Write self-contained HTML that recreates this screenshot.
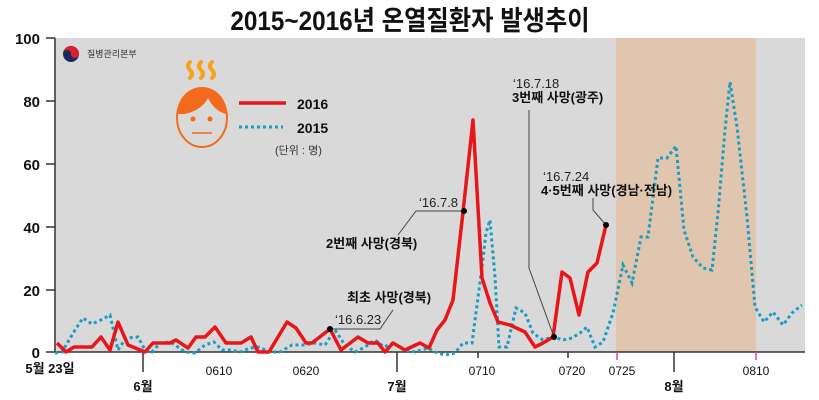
<!DOCTYPE html>
<html><head><meta charset="utf-8"><style>
body{margin:0;background:#fff;}
svg{display:block;font-family:"Liberation Sans","Noto Sans CJK KR",sans-serif;}
</style></head><body>
<svg width="819" height="400" viewBox="0 0 819 400" xmlns="http://www.w3.org/2000/svg">
<rect x="0" y="0" width="819" height="400" fill="#fff"/>
<rect x="55" y="38" width="750" height="314" fill="#d9d9d9"/>
<rect x="616" y="38" width="140" height="314" fill="#e0c6ae"/>
<text x="410" y="30" text-anchor="middle" font-size="27" font-weight="bold" fill="#111" transform="translate(410 0) scale(0.9 1) translate(-410 0)">2015~2016년 온열질환자 발생추이</text>
<!-- axes -->
<line x1="55" y1="38" x2="55" y2="352" stroke="#333" stroke-width="1.5"/>
<line x1="55" y1="352" x2="805" y2="352" stroke="#333" stroke-width="1.5"/>
<g stroke="#333" stroke-width="1.5">
<line x1="46" y1="38" x2="55" y2="38"/><line x1="46" y1="101" x2="55" y2="101"/><line x1="46" y1="164" x2="55" y2="164"/><line x1="46" y1="227" x2="55" y2="227"/><line x1="46" y1="290" x2="55" y2="290"/><line x1="46" y1="352" x2="55" y2="352"/>
<line x1="143" y1="352" x2="143" y2="372"/><line x1="397" y1="352" x2="397" y2="372"/><line x1="674" y1="352" x2="674" y2="372"/>
<line x1="478" y1="352" x2="478" y2="358"/><line x1="568" y1="352" x2="568" y2="358"/>
</g>
<g stroke="#e040a0" stroke-width="1.5"><line x1="617" y1="352" x2="617" y2="360"/><line x1="756" y1="352" x2="756" y2="360"/></g>
<g font-size="15" font-weight="bold" fill="#111" text-anchor="end">
<text x="40" y="44">100</text><text x="40" y="107">80</text><text x="40" y="170">60</text><text x="40" y="233">40</text><text x="40" y="296">20</text><text x="40" y="358">0</text>
</g>
<g font-size="12" fill="#111" text-anchor="middle">
<text x="219" y="375">0610</text><text x="306" y="375">0620</text><text x="482" y="375">0710</text><text x="572" y="375">0720</text><text x="622" y="375">0725</text><text x="756" y="375">0810</text>
</g>
<g font-size="13" font-weight="bold" fill="#111" text-anchor="middle">
<text x="50" y="373">5월 23일</text><text x="143" y="391">6월</text><text x="397" y="391">7월</text><text x="674" y="391">8월</text>
</g>
<!-- logo -->
<circle cx="71" cy="54" r="8" fill="#1a2a5e"/>
<path d="M63,54 A8,8 0 0 1 79,54 A4,4 0 0 1 71,54 A4,4 0 0 0 63,54Z" fill="#d62030"/>
<text x="87" y="57" font-size="9" fill="#333">질병관리본부</text>
<!-- face -->
<g fill="none" stroke="#f7a21b" stroke-width="4" stroke-linecap="round">
<path d="M190,62 q-4,4 0,8 q4,4 0,8"/><path d="M201,62 q-4,4 0,8 q4,4 0,8"/><path d="M212,62 q-4,4 0,8 q4,4 0,8"/>
</g>
<ellipse cx="202" cy="118" rx="25" ry="29" fill="#d9d9d9" stroke="#f26b1d" stroke-width="2"/>
<path d="M177,114 A25,27 0 0 1 227,114 Q215,112 208,98 Q202,110 185,114Z" fill="#f26b1d"/>
<circle cx="193" cy="119" r="2.5" fill="#f26b1d"/><circle cx="210" cy="119" r="2.5" fill="#f26b1d"/>
<line x1="192" y1="133" x2="212" y2="133" stroke="#f26b1d" stroke-width="1.5"/>
<!-- legend -->
<line x1="239" y1="103" x2="286" y2="103" stroke="#e8161b" stroke-width="3.5"/>
<line x1="239" y1="127" x2="283" y2="127" stroke="#1a9cc3" stroke-width="3" stroke-dasharray="3,3"/>
<text x="297" y="109" font-size="14" font-weight="bold" fill="#111">2016</text>
<text x="297" y="133" font-size="14" font-weight="bold" fill="#111">2015</text>
<text x="275" y="154" font-size="11" fill="#333">(단위 : 명)</text>
<!-- 2015 -->
<polyline fill="none" stroke="#1a9cc3" stroke-width="3" stroke-dasharray="3,3" points="55,353 62,352 75,330 83,318 92,324 103,319 110,315 118,350 126,338 138,337 145,350 152,352 160,343 170,342 175,345 185,352 195,353 205,345 214,342 222,350 230,350 240,352 250,348 260,347 268,352 280,352 292,345 303,345 315,343 325,345 335,330 345,345 355,352 365,347 375,340 384,347 393,343 405,350 415,352 428,348 435,352 445,355 455,353 463,343 472,343 482,267 486,233 490,220 495,277 499,347 507,347 516,308 525,313 533,333 543,340 553,337 563,340 572,338 580,333 587,327 595,347 603,342 613,313 623,265 632,283 641,237 648,237 658,158 667,158 676,146 684,230 693,257 703,268 712,270 718,213 725,130 730,82 737,127 747,217 755,307 764,322 773,312 783,325 792,313 802,305"/>
<!-- 2016 -->
<polyline fill="none" stroke="#e8161b" stroke-width="3.5" stroke-linejoin="round" points="57,343 66,352 74,347 92,347 101,337 110,350 118,322 128,345 145,352 153,343 170,343 176,340 188,348 196,337 205,337 215,327 226,343 241,343 251,337 258,352 269,352 287,322 296,328 306,343 312,343 330,329 341,350 358,337 368,343 378,343 385,352 393,343 405,350 420,343 429,348 437,330 445,320 453,300 463,212 473,120 482,278 490,303 498,322 510,325 525,332 535,347 543,343 553,337 562,272 570,278 579,315 588,272 597,263 606,225"/>
<!-- annotations -->
<g stroke="#444" stroke-width="1" fill="none">
<polyline points="330,329 380,329 393,310"/>
<polyline points="464,211 416,211 398,235"/>
<polyline points="529,110 529,268 554,337"/>
<polyline points="593,198 593,210 606,225"/>
</g>
<g fill="#000"><circle cx="330" cy="329" r="3"/><circle cx="464" cy="211" r="3"/><circle cx="554" cy="337" r="3"/><circle cx="606" cy="225" r="3"/></g>
<g font-size="13" fill="#222">
<text x="335" y="324">‘16.6.23</text>
<text x="419" y="207">‘16.7.8</text>
<text x="513" y="88">‘16.7.18</text>
<text x="543" y="181">‘16.7.24</text>
</g>
<g font-size="13" font-weight="bold" fill="#111">
<text x="347" y="302">최초 사망(경북)</text>
<text x="326" y="248">2번째 사망(경북)</text>
<text x="512" y="102">3번째 사망(광주)</text>
<text x="541" y="195">4·5번째 사망(경남·전남)</text>
</g>
</svg>
</body></html>
